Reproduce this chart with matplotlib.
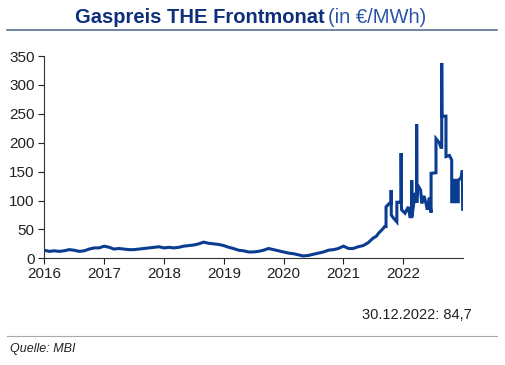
import matplotlib.pyplot as plt
import matplotlib.dates as mdates
import pandas as pd

# monthly readings 2016 - Apr 2021
monthly_start = "2016-01-01"
monthly_vals = [14, 12, 13, 12, 13, 15, 14, 12, 13, 16, 18, 18,
                21, 19, 16, 17, 16, 15, 15, 16, 17, 18, 19, 20,
                18, 19, 18, 19, 21, 22, 23, 25, 28, 26, 25, 24,
                22, 19, 17, 14, 13, 11, 11, 12, 14, 17, 15, 13,
                11, 9, 8, 6, 4, 5, 7, 9, 11, 14, 15, 17,
                21, 17, 17, 20]

# 2021/2022 readings, repeated dates give the vertical jumps
late_dates = ["2021-05-01", "2021-06-01", "2021-07-01", "2021-07-20", "2021-08-05",
              "2021-08-23", "2021-09-10", "2021-09-18", "2021-09-18", "2021-10-08",
              "2021-10-19", "2021-10-19", "2021-10-20", "2021-11-01", "2021-11-23",
              "2021-11-23", "2021-12-13", "2021-12-19", "2021-12-19", "2021-12-20",
              "2021-12-22", "2022-01-12", "2022-02-01", "2022-02-11", "2022-02-22",
              "2022-02-22", "2022-02-23", "2022-03-14", "2022-03-24", "2022-03-24",
              "2022-03-25", "2022-03-27", "2022-04-03", "2022-04-17", "2022-04-24",
              "2022-05-08", "2022-05-20", "2022-05-28", "2022-06-09", "2022-06-20",
              "2022-06-20", "2022-07-20", "2022-07-20", "2022-08-09", "2022-08-19",
              "2022-08-24", "2022-08-24", "2022-08-25", "2022-09-19", "2022-09-19",
              "2022-10-10", "2022-10-24", "2022-10-24", "2022-11-07", "2022-11-07",
              "2022-11-20", "2022-11-20", "2022-12-03", "2022-12-03", "2022-12-19",
              "2022-12-28", "2022-12-30"]
late_vals = [22, 27, 35, 38, 44,
             49, 55, 55, 89, 95,
             95, 118, 75, 70, 63,
             97, 97, 97, 182, 96,
             84, 78, 89, 72, 72,
             135, 72, 111, 111, 232,
             96, 125, 125, 118, 95,
             108, 95, 84, 105, 79,
             147, 148, 207, 200, 192,
             192, 338, 246, 246, 176,
             178, 170, 98, 98, 135,
             135, 98, 98, 135, 139,
             152, 84.7]

dates = list(pd.date_range(monthly_start, periods=len(monthly_vals), freq="MS")) + list(pd.to_datetime(late_dates))
vals = monthly_vals + late_vals

years = [2016, 2017, 2018, 2019, 2020, 2021, 2022]
yticks = [0, 50, 100, 150, 200, 250, 300, 350]

plt.rcParams['font.family'] = ['Liberation Sans', 'DejaVu Sans']
fig = plt.figure(figsize=(5.05, 3.65), dpi=100)
ax = fig.add_axes([0.0877, 0.2923, 0.8285, 0.5542])
ax.plot(dates, vals, color='#0a3d8f', lw=2.2, solid_joinstyle='miter')

ax.set_ylim(0, 350)
ax.set_xlim(pd.Timestamp("2016-01-01"), pd.Timestamp("2022-12-30"))
ax.set_yticks(yticks)
ax.set_xticks([pd.Timestamp(f"{y}-01-01") for y in years])
ax.xaxis.set_major_formatter(mdates.DateFormatter('%Y'))
ax.tick_params(labelsize=11, colors='#222222', length=4, width=0.8)
ax.tick_params(axis='y', pad=3)
ax.tick_params(axis='x', pad=2)
for s in ['top', 'right']:
    ax.spines[s].set_visible(False)
for s in ['left', 'bottom']:
    ax.spines[s].set_color('#333333')
    ax.spines[s].set_linewidth(0.8)

# title: bold part + regular part
t1 = fig.text(0.148, 0.952, "Gaspreis THE Frontmonat", fontsize=14.5, fontweight='bold',
              color='#0d2f7c', va='center', ha='left')
fig.canvas.draw()
bb = t1.get_window_extent()
fig.text(bb.x1 / fig.bbox.width + 0.008, 0.952, "(in €/MWh)", fontsize=14.5,
         color='#2b55a8', va='center', ha='left')
fig.add_artist(plt.Line2D([0.014, 0.984], [0.918, 0.918], color='#5a6f96', lw=1.2))

fig.text(0.935, 0.137, "30.12.2022: 84,7", fontsize=10.5, color='#222222', ha='right', va='center')
fig.add_artist(plt.Line2D([0.014, 0.984], [0.079, 0.079], color='#aaaaaa', lw=0.8))
fig.text(0.02, 0.044, "Quelle: MBI", fontsize=9, style='italic', color='#222222', ha='left', va='center')

fig.savefig("out.png", dpi=100)
